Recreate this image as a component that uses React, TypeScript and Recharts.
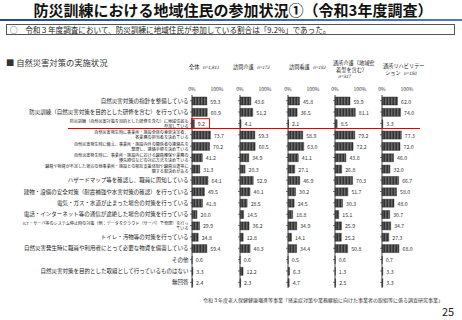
import React from "react";
import { BarChart, Bar, XAxis, YAxis, LabelList } from "recharts";

const categories: string[] = [
  "自然災害対策の指針を整備している",
  "防災訓練（自然災害対策を目的とした研修を含む）を行っている",
  "防災訓練（自然災害対策を目的とした研修を含む）に地域住民も\n参加している",
  "自然災害発生時に事業所・施設全体の意思決定者、\n各業務の担当者を決めている",
  "自然災害発生時に備え、事業所・施設内外の関係者の連絡先を\n整理し、連絡手順を決めている",
  "自然災害発生時に、事業所・施設内における職員確保や業務の\n優先順位などの対応方法を決めている",
  "職員や物資が不足した場合の他事業所・施設との相互支援体制や職員派遣等に\n関する取決めがある",
  "ハザードマップ等を確認し、職員に周知している",
  "建物・設備の安全対策（耐震補強や水害対策の確認）を行っている",
  "電気・ガス・水道が止まった場合の対策を行っている",
  "電話・インターネット等の通信が途絶した場合の対策を行っている",
  "ICT・サーバ等のシステム停止時の対策（例：データをクラウド（サーバ）で管理）を行っ\nている",
  "トイレ・汚物等の対策を行っている",
  "自然災害発生時に職員や利用者にとって必要な物資を備蓄している",
  "その他",
  "自然災害対策を目的とした取組として行っているものはない",
  "無回答",
];

const zentai = [59.3, 60.9, 9.2, 73.7, 70.2, 41.2, 31.3, 64.1, 49.5, 41.8, 20.0, 29.9, 24.8, 59.4, 0.6, 3.3, 2.4];
const houmonKaigo = [43.6, 51.2, 4.1, 59.3, 60.5, 34.9, 20.3, 52.9, 40.1, 28.5, 14.5, 36.2, 12.8, 40.3, 0.6, 12.2, 2.3];
const houmonKango = [45.8, 36.5, 2.1, 58.9, 63.0, 41.1, 27.1, 46.9, 30.2, 24.5, 18.8, 34.9, 14.1, 34.4, 0.5, 6.3, 4.7];
const tsushoKaigo = [59.9, 81.1, 8.5, 79.2, 72.2, 43.8, 26.8, 70.3, 51.7, 30.3, 15.1, 25.9, 25.2, 50.8, 0.6, 1.3, 2.5];
const tsushoReha = [62.0, 74.0, 3.3, 77.3, 72.0, 46.0, 32.0, 66.7, 58.0, 48.0, 30.7, 34.7, 27.3, 68.0, 0.7, 3.3, 3.3];

const xTicks = [0, 100];
const highlightIndex = 2;

const FONT = '"Noto Sans CJK JP", "Noto Sans", sans-serif';

const seriesList = [
  { key: "zentai", values: zentai },
  { key: "houmonKaigo", values: houmonKaigo },
  { key: "houmonKango", values: houmonKango },
  { key: "tsushoKaigo", values: tsushoKaigo },
  { key: "tsushoReha", values: tsushoReha },
];

const axisX = [192, 240, 288, 335, 382];
const PLOT_W = 25;
const RIGHT = 20;
const TOP = 87;
const XAXIS_H = 8;
const BOTTOM = 32;
const H = 320;

const CategoryTick = (props: any) => {
  const { x, y, payload } = props;
  const lines: string[] = String(payload.value).split("\n");
  const fs = lines.length > 1 ? 4.1 : 5.5;
  const lh = fs * 1.25;
  const y0 = y - ((lines.length - 1) * lh) / 2;
  return (
    <text x={x} y={y0} textAnchor="end" fontSize={fs} fill="#222" fontFamily={FONT} dominantBaseline="central">
      {lines.map((l, i) => (
        <tspan key={i} x={x} y={y0 + i * lh} dominantBaseline="central">
          {l}
        </tspan>
      ))}
    </text>
  );
};

const EmptyTick = () => <g />;

const makeValueLabel = (highlight: boolean) => (props: any) => {
  const { x, y, width, height, value, index } = props;
  const cy = y + height / 2;
  const tx = x + width + 3.5;
  return (
    <g>
      <text x={tx} y={cy} fontSize={5.2} fill="#333" fontFamily={FONT} dominantBaseline="central">
        {Number(value).toFixed(1)}
      </text>
      {highlight && index === highlightIndex ? (
        <rect x={x - 0.5} y={cy - 5} width={18} height={9.5} fill="none" stroke="#e00000" strokeWidth={0.9} />
      ) : null}
    </g>
  );
};

const ColumnChart = ({ idx }: { idx: number }) => {
  const s = seriesList[idx];
  const data = categories.map((c, i) => ({ label: c, v: s.values[i] }));
  const first = idx === 0;
  const yW = first ? axisX[0] : 6;
  const left = first ? 0 : axisX[idx] - yW;
  const width = yW + PLOT_W + RIGHT;
  const pid = `stripe-${idx}`;
  return (
    <div style={{ position: "absolute", left, top: 0, width, height: H }}>
      <BarChart
        width={width}
        height={H}
        data={data}
        layout="vertical"
        margin={{ top: TOP, right: RIGHT, bottom: BOTTOM, left: 0 }}
        barSize={8}
      >
        <defs>
          <pattern id={pid} width="1.5" height="4" patternUnits="userSpaceOnUse">
            <rect width="1.5" height="4" fill="#262626" />
            <rect width="0.45" height="4" fill="#a8a8a8" />
          </pattern>
        </defs>
        <XAxis
          type="number"
          orientation="top"
          domain={[0, 100]}
          ticks={xTicks}
          height={XAXIS_H}
          axisLine={false}
          tickLine={false}
          tickSize={2}
          tickMargin={2}
          interval={0}
          tickFormatter={(v: number) => `${v}%`}
          tick={{ fontSize: 5, fill: "#333", fontFamily: FONT }}
        />
        <YAxis
          type="category"
          dataKey="label"
          width={yW}
          axisLine={{ stroke: "#222", strokeWidth: 0.8 }}
          tickLine={{ stroke: "#222", strokeWidth: 0.6 }}
          tickSize={2}
          tickMargin={1.5}
          interval={0}
          tick={first ? <CategoryTick /> : <EmptyTick />}
        />
        <Bar dataKey="v" fill={`url(#${pid})`} stroke="#111" strokeWidth={0.4} isAnimationActive={false}>
          <LabelList dataKey="v" content={makeValueLabel(first)} />
        </Bar>
      </BarChart>
    </div>
  );
};

const txt = (style: React.CSSProperties, content: React.ReactNode) => (
  <div style={{ position: "absolute", fontFamily: FONT, whiteSpace: "nowrap", lineHeight: 1, color: "#222", ...style }}>
    {content}
  </div>
);

const nStyle: React.CSSProperties = { fontStyle: "italic", fontSize: 4.5, marginLeft: 3 };

export default function App() {
  return (
    <div style={{ position: "absolute", left: 0, top: 0, width: 462, height: 320, background: "#fff", overflow: "hidden" }}>
      {txt(
        { left: 0, width: 466, top: 2, textAlign: "center", fontSize: 15, fontWeight: 700, color: "#111" },
        "防災訓練における地域住民の参加状況①（令和3年度調査）"
      )}
      <div style={{ position: "absolute", left: 0, top: 19, width: 462, height: 2, background: "linear-gradient(90deg, #1d4c96, #4a7cc4)" }} />
      <div style={{ position: "absolute", left: 6, top: 24, width: 449, height: 11, border: "0.8px solid #555", boxSizing: "border-box" }} />
      {txt(
        { left: 10, top: 26.3, fontSize: 7.6, color: "#222" },
        "○　令和３年度調査において、防災訓練に地域住民が参加している割合は「9.2%」であった。"
      )}
      {txt({ left: 6, top: 58, fontSize: 8.3, color: "#333" }, "■ 自然災害対策の実施状況")}

      {txt({ left: 189, top: 64, fontSize: 5.2 }, <>全体<span style={nStyle}>n=1,811</span></>)}
      {txt({ left: 233, top: 64, fontSize: 5.2 }, <>訪問介護<span style={nStyle}>n=172</span></>)}
      {txt({ left: 289, top: 64, fontSize: 5.2 }, <>訪問看護<span style={nStyle}>n=192</span></>)}
      {txt({ left: 333, top: 59.5, fontSize: 5.2 }, "通所介護（地域密")}
      {txt({ left: 336, top: 66.5, fontSize: 5.2 }, "着型を含む）")}
      {txt({ left: 338, top: 73.5, fontSize: 4.5, fontStyle: "italic" }, "n=317")}
      {txt({ left: 383, top: 62.5, fontSize: 5.2 }, "通所リハビリテー")}
      {txt({ left: 385, top: 69.5, fontSize: 5.2 }, <>ション<span style={nStyle}>n=150</span></>)}

      {seriesList.map((_, i) => (
        <ColumnChart key={i} idx={i} />
      ))}

      <div style={{ position: "absolute", left: 68, top: 128, width: 352, height: 1.2, background: "#e00000" }} />

      {txt(
        { left: 203, top: 296.5, fontSize: 5, color: "#333" },
        "令和３年度老人保健健康増進等事業「感染症対策や業務継続に向けた事業者の取組等に係る調査研究事業」"
      )}
      {txt({ left: 442, top: 306, fontSize: 11, color: "#222" }, "25")}
    </div>
  );
}
